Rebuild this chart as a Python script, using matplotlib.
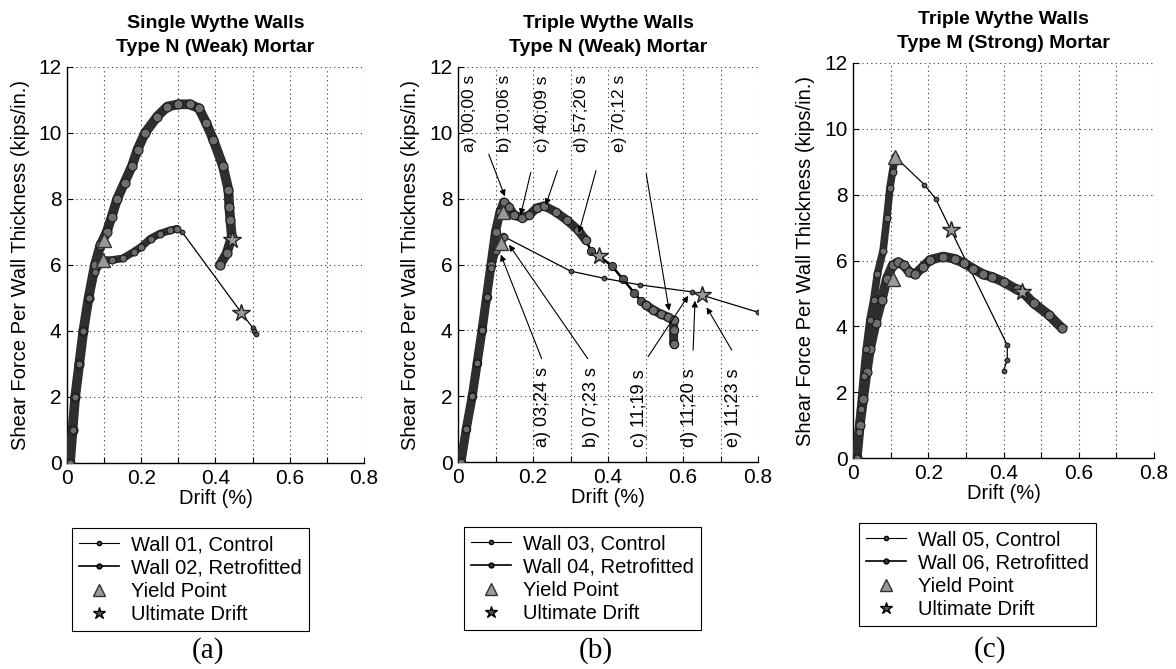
import matplotlib.pyplot as plt
from matplotlib.lines import Line2D

plt.rcParams['font.family'] = ['Liberation Sans', 'DejaVu Sans']

# ---- (a) Single wythe walls, type N mortar
wall01_x = [0.008, 0.015, 0.022, 0.033, 0.044, 0.058, 0.075, 0.09, 0.10, 0.12, 0.15, 0.18,
            0.20, 0.225, 0.25, 0.278, 0.296, 0.31, 0.47, 0.50, 0.505, 0.51]
wall01_y = [0.0, 1.0, 2.0, 3.0, 4.0, 5.0, 5.8, 6.05, 6.15, 6.15, 6.2, 6.4,
            6.55, 6.8, 6.95, 7.05, 7.1, 7.0, 4.55, 4.1, 4.0, 3.9]
wall02_x = [0.008, 0.015, 0.022, 0.033, 0.044, 0.058, 0.075, 0.09, 0.107, 0.12, 0.135, 0.155,
            0.175, 0.19, 0.21, 0.243, 0.27, 0.30, 0.33, 0.355, 0.375, 0.394, 0.42, 0.435,
            0.437, 0.44, 0.444, 0.43, 0.412]
wall02_y = [0.0, 1.0, 2.0, 3.0, 4.0, 5.0, 6.0, 6.6, 7.0, 7.45, 8.0, 8.5,
            9.0, 9.5, 10.0, 10.5, 10.8, 10.87, 10.87, 10.75, 10.3, 9.8, 9.0, 8.27,
            7.77, 7.36, 6.86, 6.35, 6.0]
yield_a_x = [0.097, 0.100]
yield_a_y = [6.15, 6.75]
ult_a_x = [0.47, 0.445]
ult_a_y = [4.55, 6.75]

# ---- (b) Triple wythe walls, type N mortar
wall03_x = [0.008, 0.022, 0.038, 0.051, 0.064, 0.076, 0.088, 0.10, 0.114, 0.122,
            0.30, 0.39, 0.485, 0.623, 0.65, 0.80]
wall03_y = [0.0, 1.0, 2.0, 3.0, 4.0, 5.0, 5.9, 6.4, 6.65, 6.85,
            5.8, 5.58, 5.38, 5.17, 5.07, 4.55]
wall04_x = [0.008, 0.022, 0.038, 0.051, 0.064, 0.076, 0.088, 0.10, 0.112, 0.122, 0.135, 0.15,
            0.17, 0.19, 0.21, 0.23, 0.26, 0.29, 0.32, 0.34,
            0.355, 0.377, 0.411, 0.44, 0.47, 0.487,
            0.50, 0.52, 0.54, 0.56, 0.575, 0.575, 0.575]
wall04_y = [0.0, 1.0, 2.0, 3.0, 4.0, 5.0, 6.0, 7.0, 7.6, 7.9, 7.75, 7.5,
            7.42, 7.5, 7.72, 7.78, 7.6, 7.35, 7.05, 6.75,
            6.42, 6.25, 5.95, 5.55, 5.14, 4.9,
            4.78, 4.62, 4.5, 4.4, 4.3, 4.0, 3.6]
yield_b_x = [0.114, 0.12]
yield_b_y = [6.65, 7.6]
ult_b_x = [0.65, 0.377]
ult_b_y = [5.07, 6.25]

top_notes = ["a) 00;00 s", "b) 10;06 s", "c) 40;09 s", "d) 57;20 s", "e) 70;12 s"]
top_text_x = [0.03, 0.125, 0.225, 0.33, 0.43]
top_tail = [(0.082, 9.35), (0.194, 8.8), (0.265, 8.85), (0.368, 8.85), (0.502, 8.75)]
top_head = [(0.125, 8.07), (0.167, 7.5), (0.234, 7.8), (0.322, 6.95), (0.563, 4.6)]

bottom_notes = ["a) 03;24 s", "b) 07;23 s", "c) 11;19 s", "d) 11;20 s", "e) 11;23 s"]
bottom_text_x = [0.225, 0.355, 0.484, 0.618, 0.735]
bottom_tail = [(0.223, 3.14), (0.346, 3.14), (0.507, 3.2), (0.627, 3.4), (0.73, 3.4)]
bottom_head = [(0.114, 6.3), (0.136, 6.6), (0.614, 5.05), (0.632, 4.9), (0.663, 4.7)]

# ---- (c) Triple wythe walls, type M mortar
wall05_x = [0.01, 0.015, 0.02, 0.028, 0.035, 0.045, 0.055, 0.065, 0.08, 0.09, 0.098, 0.105, 0.112,
            0.19, 0.22, 0.26, 0.41, 0.41, 0.40]
wall05_y = [0.0, 0.8, 1.5, 2.5, 3.3, 4.2, 4.8, 5.6, 6.3, 7.3, 8.2, 8.7, 9.15,
            8.3, 7.87, 6.93, 3.43, 2.98, 2.65]
wall06_x = [0.01, 0.018, 0.027, 0.036, 0.045, 0.06, 0.076, 0.09, 0.105, 0.12, 0.135, 0.15,
            0.165, 0.185, 0.205, 0.24, 0.27, 0.295, 0.32, 0.346, 0.37, 0.40, 0.435, 0.45,
            0.48, 0.52, 0.555]
wall06_y = [0.0, 1.0, 1.8, 2.6, 3.3, 4.1, 4.8, 5.45, 5.85, 5.95, 5.85, 5.65,
            5.58, 5.8, 6.02, 6.12, 6.05, 5.92, 5.75, 5.58, 5.5, 5.35, 5.12, 5.05,
            4.7, 4.35, 3.95]
yield_c_x = [0.112, 0.107]
yield_c_y = [9.15, 5.45]
ult_c_x = [0.26, 0.45]
ult_c_y = [6.93, 5.05]

x_ticks = [0, 0.1, 0.2, 0.3, 0.4, 0.5, 0.6, 0.7, 0.8]
x_tick_labels = ["0", "", "0.2", "", "0.4", "", "0.6", "", "0.8"]
y_ticks = [0, 2, 4, 6, 8, 10, 12]


def band(ax, x, y, lw=6.5):
    # densely sampled part of a record: overlapping markers look like a thick band
    ax.plot(x, y, "-", color="#2e2e2e", lw=lw, solid_capstyle="round",
            solid_joinstyle="round", zorder=3)
    ax.plot(x, y, "o", ms=lw - 0.5, mfc="#6e6e6e", mec="#1a1a1a", mew=0.8, zorder=4)


def trace(ax, x, y, lw, ms):
    ax.plot(x, y, "-", color="k", lw=lw, marker="o", ms=ms, mfc="#555555",
            mec="k", mew=0.6, zorder=3)


def wall(ax, x, y, split, retro):
    # points before 'split' are dense, after are sparse readings
    if split is None:
        band(ax, x, y, lw=7)
        return
    band(ax, x[:split], y[:split], lw=6.5 if retro else 5.5)
    trace(ax, x[split - 1:], y[split - 1:], lw=1.8 if retro else 0.9, ms=6 if retro else 3.5)


def markers(ax, yx, yy, ux, uy):
    ax.plot(yx, yy, "^", ms=10, mfc="#9a9a9a", mec="#333333", mew=1, ls="none", zorder=6)
    ax.plot(ux, uy, "*", ms=13, mfc="#9a9a9a", mec="#222222", mew=1, ls="none", zorder=6)


fig = plt.figure(figsize=(11.76, 6.69), dpi=100)
W, H = 1176.0, 669.0
ax_a = fig.add_axes([67 / W, 1 - 463 / H, 297 / W, 396 / H])
ax_b = fig.add_axes([458 / W, 1 - 462 / H, 300 / W, 395 / H])
ax_c = fig.add_axes([853 / W, 1 - 458 / H, 301 / W, 395 / H])

wall(ax_a, wall02_x, wall02_y, None, True)
wall(ax_a, wall01_x, wall01_y, 17, False)
markers(ax_a, yield_a_x, yield_a_y, ult_a_x, ult_a_y)

wall(ax_b, wall04_x, wall04_y, 20, True)
band(ax_b, wall04_x[26:], wall04_y[26:])
wall(ax_b, wall03_x, wall03_y, 10, False)
markers(ax_b, yield_b_x, yield_b_y, ult_b_x, ult_b_y)

wall(ax_c, wall06_x, wall06_y, None, True)
wall(ax_c, wall05_x, wall05_y, 13, False)
markers(ax_c, yield_c_x, yield_c_y, ult_c_x, ult_c_y)

arrow = dict(arrowstyle="-|>", lw=0.8, color="k", mutation_scale=9, shrinkA=0, shrinkB=0)
for lab, tx, t0, t1 in zip(top_notes, top_text_x, top_tail, top_head):
    ax_b.text(tx, 11.75, lab, rotation=90, ha="center", va="top", fontsize=12.5, zorder=7)
    ax_b.annotate("", xy=t1, xytext=t0, arrowprops=arrow, zorder=7)
for lab, tx, t0, t1 in zip(bottom_notes, bottom_text_x, bottom_tail, bottom_head):
    ax_b.text(tx, 0.45, lab, rotation=90, ha="center", va="bottom", fontsize=13, zorder=7)
    ax_b.annotate("", xy=t1, xytext=t0, arrowprops=arrow, zorder=7)

titles = ["Single Wythe Walls\nType N (Weak) Mortar",
          "Triple Wythe Walls\nType N (Weak) Mortar",
          "Triple Wythe Walls\nType M (Strong) Mortar"]
legend_labels = [["Wall 01, Control", "Wall 02, Retrofitted"],
                 ["Wall 03, Control", "Wall 04, Retrofitted"],
                 ["Wall 05, Control", "Wall 06, Retrofitted"]]
legend_pos = [(72, 528), (464, 527), (859, 523)]
panel_tags = ["(a)", "(b)", "(c)"]
tag_pos = [(208, 651), (596, 651), (990, 650)]

handles = [
    Line2D([], [], color="k", lw=0.8, marker="o", ms=3, mfc="#555555", mec="k"),
    Line2D([], [], color="k", lw=1.2, marker="o", ms=3.5, mfc="#333333", mec="k"),
    Line2D([], [], ls="none", marker="^", ms=9, mfc="#9a9a9a", mec="#333333"),
    Line2D([], [], ls="none", marker="*", ms=9, mfc="#555555", mec="k"),
]

for ax, title, labs, lp, tag, tp in zip([ax_a, ax_b, ax_c], titles, legend_labels,
                                        legend_pos, panel_tags, tag_pos):
    ax.set_xlim(0, 0.8)
    ax.set_ylim(0, 12)
    ax.set_xticks(x_ticks)
    ax.set_xticklabels(x_tick_labels)
    ax.set_yticks(y_ticks)
    ax.tick_params(direction="in", length=4, width=0.8, labelsize=15, pad=4)
    ax.grid(True, color="#333333", ls=(0, (1, 3)), lw=0.8)
    ax.set_axisbelow(True)
    for s in ["top", "right"]:
        ax.spines[s].set_visible(False)
    for s in ["left", "bottom"]:
        ax.spines[s].set_linewidth(1.0)
    ax.set_title(title, fontsize=14, fontweight="bold", pad=11, linespacing=1.55)
    ax.set_xlabel("Drift (%)", fontsize=14.5)
    ax.xaxis.set_label_coords(0.5, -0.065)
    ax.set_ylabel("Shear Force Per Wall Thickness (kips/in.)", fontsize=14.5)
    ax.yaxis.set_label_coords(-0.125, 0.5)

    leg = fig.legend(handles, labs + ["Yield Point", "Ultimate Drift"],
                     loc="upper left", bbox_to_anchor=(lp[0] / W, 1 - lp[1] / H),
                     fontsize=14.5, handlelength=2.0, handletextpad=0.6, borderpad=0.35,
                     labelspacing=0.22, fancybox=False, framealpha=1, borderaxespad=0)
    leg.get_frame().set_edgecolor("k")
    leg.get_frame().set_linewidth(0.8)

    fig.text(tp[0] / W, 1 - tp[1] / H, tag, ha="center", va="center", fontsize=21,
             family=["Liberation Serif", "DejaVu Serif"])

fig.savefig("out.png", dpi=100)
